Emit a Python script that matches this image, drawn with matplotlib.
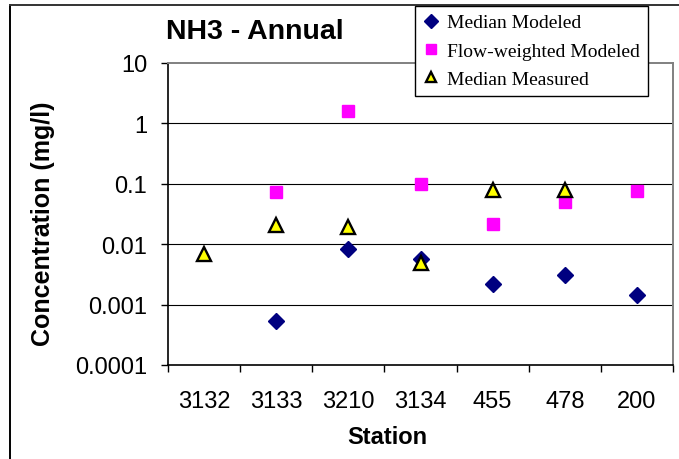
import matplotlib
matplotlib.use("Agg")
import matplotlib.pyplot as plt
from matplotlib.lines import Line2D
from matplotlib.ticker import FixedLocator, FixedFormatter, NullFormatter
import numpy as np

stations = ["3132", "3133", "3210", "3134", "455", "478", "200"]
median_modeled = [np.nan, 0.00053, 0.0083, 0.0057, 0.0022, 0.0031, 0.00145]
flow_weighted_modeled = [np.nan, 0.072, 1.58, 0.10, 0.022, 0.050, 0.077]
median_measured = [0.0069, 0.021, 0.019, 0.0049, 0.079, 0.079, np.nan]

y_ticks = [0.0001, 0.001, 0.01, 0.1, 1, 10]
y_tick_labels = ["0.0001", "0.001", "0.01", "0.1", "1", "10"]

W, H = 679, 460
fig = plt.figure(figsize=(W / 100, H / 100), dpi=100)
fig.patch.set_facecolor("white")

sans = "Liberation Sans"
serif = "Liberation Serif"

# plot area in pixels: left 168, right 673, top 64, bottom 366
ax = fig.add_axes([168 / W, 1 - 366 / H, (673 - 168) / W, (366 - 64) / H])
ax.set_yscale("log")
ax.set_ylim(0.0001, 10)
n = len(stations)
ax.set_xlim(-0.5, n - 0.5)

x = np.arange(n)
ax.plot(x, median_modeled, linestyle="none", marker="D", markersize=8,
        color="#000080", markeredgecolor="#000080", label="Median Modeled", zorder=3)
ax.plot(x, flow_weighted_modeled, linestyle="none", marker="s", markersize=9,
        color="#ff00ff", markeredgecolor="#ff00ff", label="Flow-weighted Modeled", zorder=3)
ax.plot(x, median_measured, linestyle="none", marker="^", markersize=10.5,
        color="#ffff00", markeredgecolor="black", markeredgewidth=1.7,
        label="Median Measured", zorder=4)

# y axis ticks and gridlines
ax.yaxis.set_major_locator(FixedLocator(y_ticks))
ax.yaxis.set_major_formatter(FixedFormatter(y_tick_labels))
ax.yaxis.set_minor_locator(FixedLocator([]))
ax.yaxis.set_minor_formatter(NullFormatter())
for yv in y_ticks[1:-1]:
    ax.axhline(yv, color="black", linewidth=0.8, zorder=1)

# x axis: labels at category centres, tick marks at boundaries
ax.xaxis.set_major_locator(FixedLocator(x))
ax.xaxis.set_major_formatter(FixedFormatter(stations))
ax.xaxis.set_minor_locator(FixedLocator(np.arange(n + 1) - 0.5))
ax.tick_params(axis="x", which="major", length=0, pad=18)
ax.tick_params(axis="x", which="minor", length=5, width=1, direction="out", color="black")
ax.tick_params(axis="y", which="major", length=5, width=1, direction="out", pad=10, color="black")
for lab in ax.get_xticklabels() + ax.get_yticklabels():
    lab.set_fontfamily(sans)
    lab.set_fontsize(17)

ax.spines["left"].set_color("black")
ax.spines["bottom"].set_color("black")
ax.spines["left"].set_linewidth(1.2)
ax.spines["bottom"].set_linewidth(1.2)
ax.spines["top"].set_color("#808080")
ax.spines["right"].set_color("#808080")
ax.spines["top"].set_linewidth(1.4)
ax.spines["right"].set_linewidth(1.4)

# titles and axis labels
fig.text(255 / W, 1 - 39 / H, "NH3 - Annual", fontfamily=sans, fontweight="bold",
         fontsize=20.5, ha="center", va="baseline")
fig.text(387 / W, 1 - 444 / H, "Station", fontfamily=sans, fontweight="bold",
         fontsize=17, ha="center", va="baseline")
fig.text(50 / W, 1 - 224 / H, "Concentration (mg/l)", fontfamily=sans, fontweight="bold",
         fontsize=18, ha="center", va="baseline", rotation=90, rotation_mode="anchor")

# outer chart frame (left and top edges)
fig.add_artist(Line2D([9.5 / W, 9.5 / W], [0, 1 - 5.5 / H], transform=fig.transFigure,
                      color="black", linewidth=1.4))
fig.add_artist(Line2D([9.5 / W, 1], [1 - 5.5 / H, 1 - 5.5 / H], transform=fig.transFigure,
                      color="#333333", linewidth=1.4))

leg = fig.legend(loc="upper left", bbox_to_anchor=(415 / W, 1 - 7 / H),
                 prop={"family": serif, "size": 14}, frameon=True, fancybox=False,
                 edgecolor="black", framealpha=1, borderpad=0.4, labelspacing=0.55,
                 handlelength=0.8, handletextpad=0.45, borderaxespad=0)
leg.get_frame().set_linewidth(1.0)
leg.set_zorder(10)
for h in leg.legend_handles:
    h.set_markersize(7)

fig.savefig("out.png", dpi=100, facecolor="white")
